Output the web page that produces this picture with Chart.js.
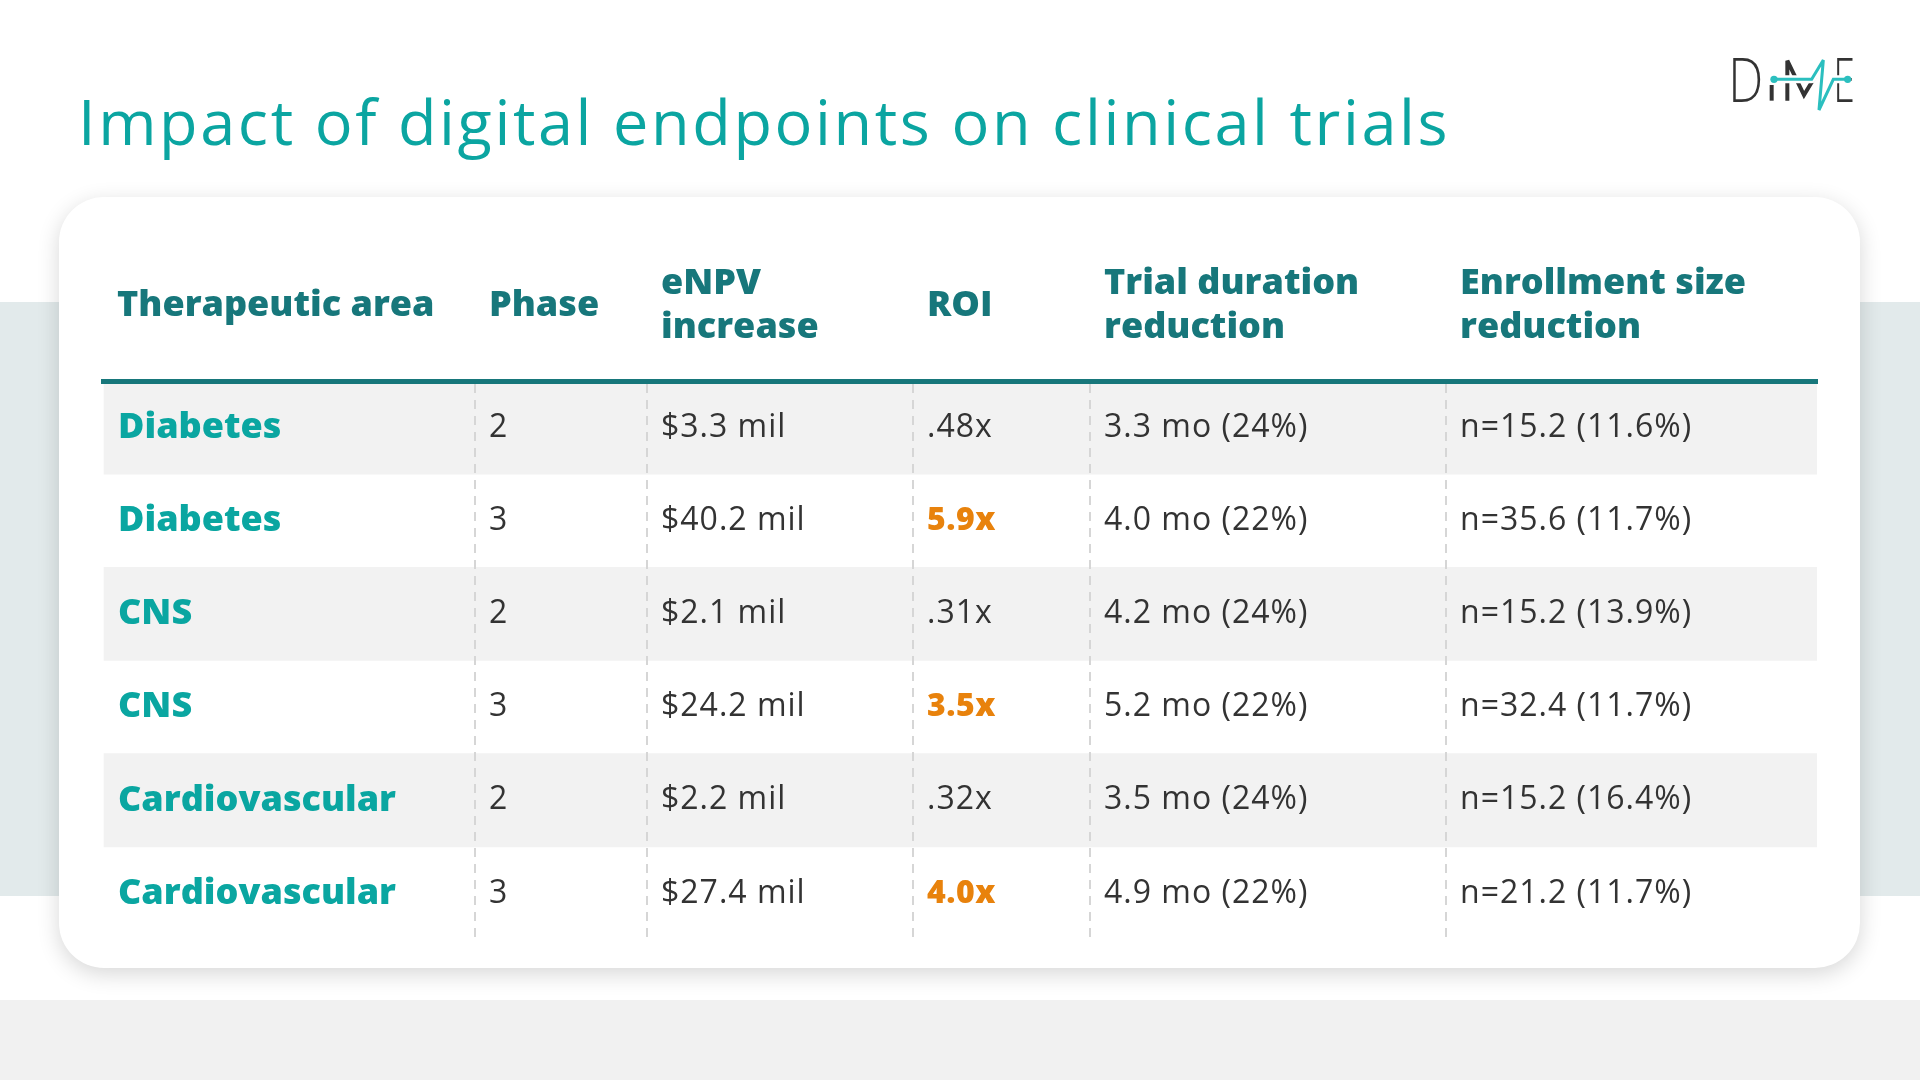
<!DOCTYPE html>
<html>
<head>
<meta charset="utf-8">
<script src="https://cdn.jsdelivr.net/npm/chart.js@4.4.1/dist/chart.umd.min.js"></script>
<style>
  html, body { margin: 0; padding: 0; }
  body { width: 1920px; height: 1080px; position: relative; overflow: hidden; background: #ffffff; }
  .band { position: absolute; left: 0; top: 302px; width: 1920px; height: 594px; background: #e2eaeb; }
  .bottom { position: absolute; left: 0; top: 1000px; width: 1920px; height: 80px; background: #f1f1f1; }
  .card { position: absolute; left: 59px; top: 197px; width: 1801px; height: 771px; border-radius: 45px; background: #ffffff;
          box-shadow: 0 6px 22px rgba(0,0,0,0.16); }
  h1 { position: absolute; left: 78px; top: 90px; margin: 0; font-family: "Open Sans", sans-serif; font-weight: 400;
       font-size: 63px; line-height: 62px; color: #0ba5a1; white-space: nowrap; letter-spacing: 2.6px; }
  .logo { position: absolute; left: 1700px; top: 40px; width: 200px; height: 90px; }
  #c { position: absolute; left: 0; top: 0; }
</style>
</head>
<body>
<div class="band"></div>
<div class="bottom"></div>
<div class="card"></div>
<h1>Impact of digital endpoints on clinical trials</h1>
<svg class="logo" viewBox="0 0 600 270" xmlns="http://www.w3.org/2000/svg">
  <text x="85" y="185" font-family="Open Sans, sans-serif" font-weight="300" font-size="180" fill="#333" textLength="105" lengthAdjust="spacingAndGlyphs">D</text>
  <text x="400" y="185" font-family="Open Sans, sans-serif" font-weight="300" font-size="180" fill="#333" textLength="65" lengthAdjust="spacingAndGlyphs">E</text>
  <line x1="215" y1="135" x2="215" y2="182" stroke="#333" stroke-width="12"/>
  <polyline points="262,182 262,62 312,165 345,110" fill="none" stroke="#333" stroke-width="12" stroke-linejoin="miter"/>
  <polyline points="222,118 335,118 370,60 357,210 400,118 443,118" fill="none" stroke="#fff" stroke-width="24" stroke-linejoin="round"/>
  <polyline points="222,118 335,118 370,60 357,210 400,118 443,118" fill="none" stroke="#2bbfbf" stroke-width="9" stroke-linejoin="miter"/>
  <circle cx="222" cy="118" r="11" fill="#2bbfbf"/>
  <circle cx="443" cy="118" r="11" fill="#2bbfbf"/>
</svg>
<canvas id="c" width="1920" height="1080"></canvas>
<script>
// ---- data ----
const areas = ['Diabetes', 'Diabetes', 'CNS', 'CNS', 'Cardiovascular', 'Cardiovascular'];
const phases = [2, 3, 2, 3, 2, 3];
const enpvMil = [3.3, 40.2, 2.1, 24.2, 2.2, 27.4];
const roi = [0.48, 5.9, 0.31, 3.5, 0.32, 4.0];
const durationMo = [3.3, 4.0, 4.2, 5.2, 3.5, 4.9];
const durationPct = [24, 22, 24, 22, 24, 22];
const enrollN = [15.2, 35.6, 15.2, 32.4, 15.2, 21.2];
const enrollPct = [11.6, 11.7, 13.9, 11.7, 16.4, 11.7];
const headers = ['Therapeutic area', 'Phase', ['eNPV', 'increase'], 'ROI', ['Trial duration', 'reduction'], ['Enrollment size', 'reduction']];

// ---- layout (not data) ----
const colEdges = [0, 372, 544, 810, 987, 1343];
const tableWidth = 1714;
const cellPad = 14;
const headerH = 160;

function fmtRoi(v) {
  return v < 1 ? v.toFixed(2).replace(/^0/, '') + 'x' : v.toFixed(1) + 'x';
}

const cellPlugin = {
  id: 'cells',
  afterDraw(chart) {
    const { ctx, scales: { x, y } } = chart;
    const cols = [
      i => ({ text: String(phases[i]) }),
      i => ({ text: '$' + enpvMil[i].toFixed(1) + ' mil' }),
      i => ({ text: fmtRoi(roi[i]), hi: roi[i] >= 1 }),
      i => ({ text: durationMo[i].toFixed(1) + ' mo (' + durationPct[i] + '%)' }),
      i => ({ text: 'n=' + enrollN[i].toFixed(1) + ' (' + enrollPct[i].toFixed(1) + '%)' })
    ];
    ctx.save();
    ctx.textBaseline = 'middle';
    ctx.textAlign = 'left';
    areas.forEach((_, i) => {
      const py = y.getPixelForValue(i);
      cols.forEach((fn, c) => {
        const cell = fn(i);
        const px = x.getPixelForValue(colEdges[c + 1]) + cellPad;
        ctx.font = (cell.hi ? '800 ' : '400 ') + '32px "Open Sans", sans-serif';
        ctx.letterSpacing = cell.hi ? '0.5px' : '1px';
        ctx.fillStyle = cell.hi ? '#e8820c' : '#333333';
        ctx.fillText(cell.text, px, py);
      });
    });
    ctx.restore();
  }
};

new Chart(document.getElementById('c').getContext('2d'), {
  type: 'bar',
  data: {
    labels: areas.map((_, i) => i),
    datasets: [{
      data: areas.map((_, i) => (i % 2 === 0 ? [0, tableWidth] : null)),
      backgroundColor: '#f2f2f2',
      borderWidth: 0,
      barPercentage: 1,
      categoryPercentage: 1
    }]
  },
  options: {
    indexAxis: 'y',
    responsive: false,
    animation: false,
    events: [],
    layout: { padding: { left: 103, right: 103, top: 381 - headerH, bottom: 140 } },
    plugins: { legend: { display: false }, tooltip: { enabled: false }, title: { display: false } },
    scales: {
      x: {
        type: 'linear', position: 'top', min: 0, max: tableWidth,
        afterBuildTicks: s => { s.ticks = colEdges.map(v => ({ value: v })); },
        afterFit: s => { s.height = headerH; },
        ticks: {
          z: 1, autoSkip: false, maxRotation: 0, minRotation: 0, align: 'start', crossAlign: 'center',
          labelOffset: cellPad, padding: 53, color: '#17777b',
          font: { family: 'Open Sans', weight: 800, size: 36, lineHeight: 1.24 },
          callback: (v, i) => headers[i]
        },
        grid: {
          z: 1, drawTicks: false, lineWidth: 2,
          color: c => (c.tick && c.tick.value === 0 ? 'rgba(0,0,0,0)' : '#d6d6d6')
        },
        border: { z: 1, display: true, color: '#17777b', width: 5, dash: [9, 7] }
      },
      y: {
        type: 'category',
        afterFit: s => { s.width = 0; },
        grid: { display: false },
        border: { display: false },
        ticks: {
          z: 1, mirror: true, padding: 15, autoSkip: false, color: '#0aa6a1',
          font: { family: 'Open Sans', weight: 800, size: 36 },
          callback: (v, i) => areas[i]
        }
      }
    }
  },
  plugins: [cellPlugin]
});
</script>
</body>
</html>
